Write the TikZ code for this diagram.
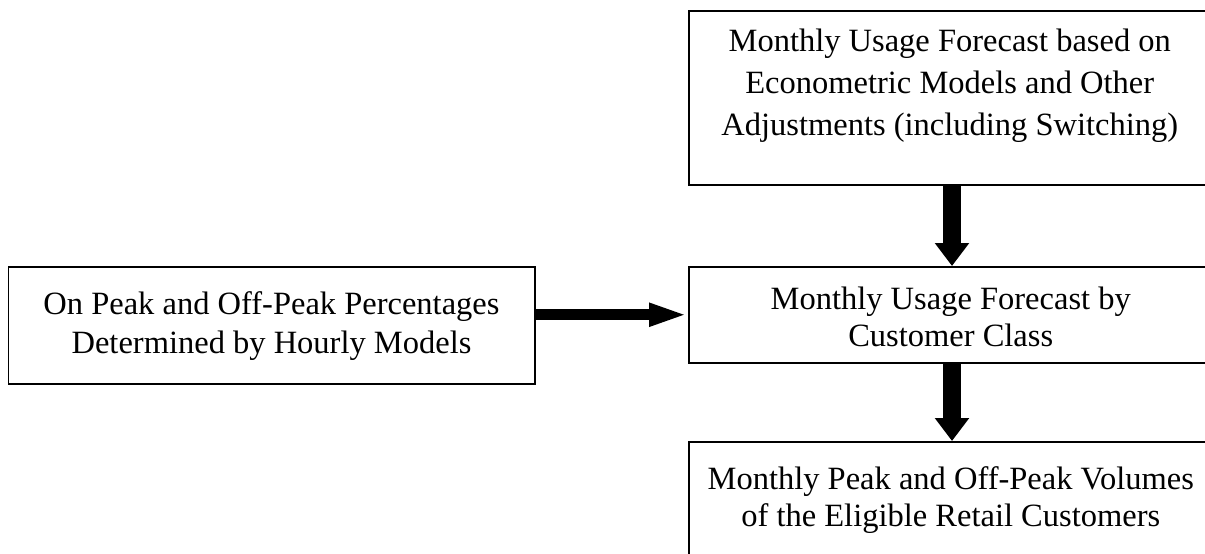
\documentclass[tikz,border=0pt]{standalone}
\usepackage{fontspec}
\setmainfont{Liberation Serif}
\usetikzlibrary{arrows.meta}

% width, height, top padding, lines
\newcommand{\stagetext}[4]{\parbox[c][#2][t]{#1}{\centering\vspace*{#3}\strut#4}}

\tikzset{
    stage/.style={draw, line width=1.5pt, inner sep=0pt, anchor=north west, font=\fontsize{32.5}{36.8}\selectfont},
    tallstage/.style={stage, font=\fontsize{32.5}{42}\selectfont},
    loosestage/.style={stage, font=\fontsize{32.5}{38.5}\selectfont},
    vflow/.style={line width=18pt, -{Triangle[length=23pt, width=33pt]}},
    hflow/.style={line width=11pt, -{Triangle[length=39pt, width=21pt]}}
}

\begin{document}
\begin{tikzpicture}[x=1pt, y=-1pt]
    \useasboundingbox (0, 0) rectangle (1205, 554);

    \node[tallstage]  (forecast) at (688, 10)  {\stagetext{522pt}{174pt}{11.5pt}{Monthly Usage Forecast based on\\ Econometric Models and Other\\ Adjustments (including Switching)}};
    \node[stage]      (class)    at (688, 266) {\stagetext{524pt}{96pt}{17pt}{Monthly Usage Forecast by\\ Customer Class}};
    \node[loosestage] (percent)  at (7.5, 266) {\stagetext{526.5pt}{117pt}{21pt}{On Peak and Off-Peak Percentages\\ Determined by Hourly Models}};
    \node[stage]      (volume)   at (688, 441) {\stagetext{524pt}{150pt}{22pt}{Monthly Peak and Off-Peak Volumes\\ of the Eligible Retail Customers}};

    \coordinate (axis) at (952, 0);

    \draw[vflow] (forecast.south -| axis) -- (class.north -| axis);   % forecast -- class
    \draw[hflow] (percent.east |- class.west) -- (class.west);         % percent -- class
    \draw[vflow] (class.south -| axis) -- (volume.north -| axis);      % class -- volume
\end{tikzpicture}
\end{document}
